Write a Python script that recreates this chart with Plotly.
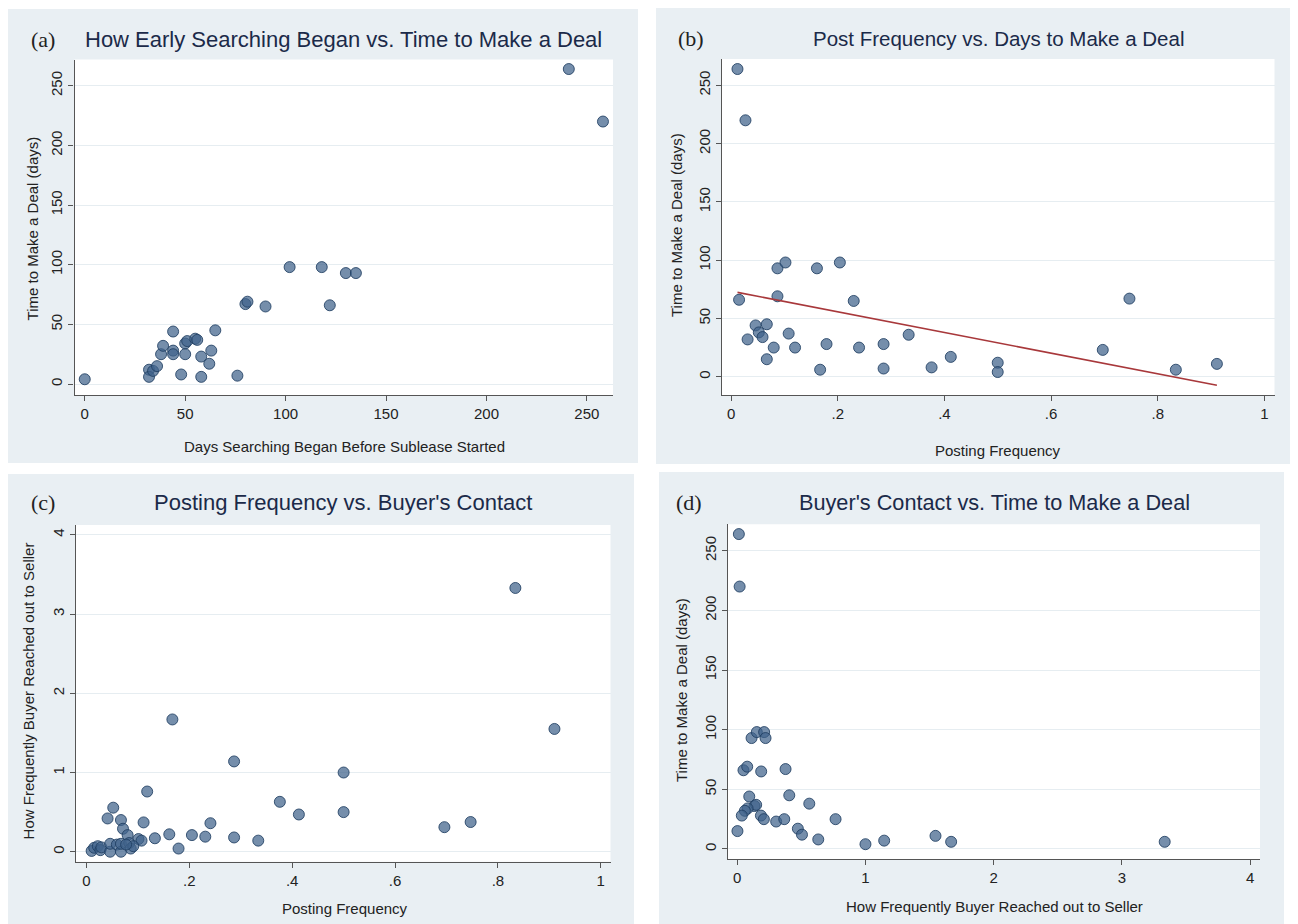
import numpy as np
import plotly.graph_objects as go

# ---------------- data ----------------
# (a) days searching began vs time to deal
a_days_began = [0, 32, 32, 34, 36, 38, 39, 44, 44, 44, 48, 50, 50, 51, 55, 56, 58, 58,
                62, 63, 65, 76, 80, 81, 90, 102, 118, 122, 130, 135, 241, 258]
a_time_deal = [4, 12, 6, 11, 15, 25, 32, 44, 28, 25, 8, 34, 25, 36, 38, 37, 23, 6,
               17, 28, 45, 7, 67, 69, 65, 98, 98, 66, 93, 93, 264, 220]

# (b) posting frequency vs time to deal
b_post_freq = [0.012, 0.027, 0.015, 0.031, 0.046, 0.052, 0.059, 0.067, 0.067, 0.080, 0.087,
               0.087, 0.102, 0.108, 0.120, 0.161, 0.167, 0.179, 0.204, 0.230, 0.240, 0.286,
               0.286, 0.333, 0.376, 0.412, 0.500, 0.500, 0.697, 0.747, 0.834, 0.911]
b_time_deal = [264, 220, 66, 32, 44, 38, 34, 45, 15, 25, 69,
               93, 98, 37, 25, 93, 6, 28, 98, 65, 25, 28,
               7, 36, 8, 17, 12, 4, 23, 67, 6, 11]

# (c) posting frequency vs buyer contact
c_post_freq = [0.834, 0.910, 0.167, 0.287, 0.500, 0.118, 0.052, 0.041, 0.067, 0.071, 0.080,
               0.111, 0.376, 0.413, 0.500, 0.241, 0.696, 0.747, 0.161, 0.205, 0.231, 0.287,
               0.334, 0.133, 0.179, 0.101, 0.107, 0.010, 0.015, 0.022, 0.027, 0.029, 0.046,
               0.046, 0.059, 0.067, 0.067, 0.083, 0.086, 0.091, 0.077]
c_contact = [3.33, 1.55, 1.67, 1.14, 1.00, 0.76, 0.556, 0.42, 0.40, 0.29, 0.21,
             0.37, 0.63, 0.47, 0.50, 0.36, 0.31, 0.375, 0.22, 0.21, 0.19, 0.18,
             0.14, 0.17, 0.04, 0.16, 0.14, 0.01, 0.05, 0.07, 0.02, 0.055, 0.0,
             0.10, 0.09, 0.0, 0.10, 0.11, 0.04, 0.07, 0.09]

# (d) buyer contact vs time to deal
d_contact = [0.013, 0.019, 0.112, 0.153, 0.210, 0.221, 0.049, 0.078, 0.187, 0.377, 0.094,
             0.406, 0.562, 0.135, 0.148, 0.081, 0.060, 0.036, 0.185, 0.208, 0.304, 0.367,
             0.767, 0.002, 0.473, 0.505, 0.632, 1.000, 1.146, 1.546, 1.668, 3.333]
d_time_deal = [264, 220, 93, 98, 98, 93, 66, 69, 65, 67, 44,
               45, 38, 36, 37, 34, 32, 28, 28, 25, 23, 25,
               25, 15, 17, 12, 8, 4, 7, 11, 6, 6]

freq_ticks = [0, 0.2, 0.4, 0.6, 0.8, 1]
freq_ticktext = ["0", ".2", ".4", ".6", ".8", "1"]
day_ticks = [0, 50, 100, 150, 200, 250]
contact_ticks = [0, 1, 2, 3, 4]

panel_letters = ["(a)", "(b)", "(c)", "(d)"]
panel_titles = ["How Early Searching Began vs. Time to Make a Deal",
                "Post Frequency vs. Days to Make a Deal",
                "Posting Frequency vs. Buyer's Contact",
                "Buyer's Contact vs. Time to Make a Deal"]
x_titles = ["Days Searching Began Before Sublease Started", "Posting Frequency",
            "Posting Frequency", "How Frequently Buyer Reached out to Seller"]
y_titles = ["Time to Make a Deal (days)", "Time to Make a Deal (days)",
            "How Frequently Buyer Reached out to Seller", "Time to Make a Deal (days)"]

# ---------------- layout helpers ----------------
OFF = 8  # page body margin
W, H = 1298 - OFF, 924 - OFF


def px_x(p):
    return max(0.0, min(1.0, (p - OFF) / W))


def px_y(p):
    return max(0.0, min(1.0, 1 - (p - OFF) / H))


TITLE_FONT = "Liberation Sans, Arial, sans-serif"
TEXT_FONT = "Liberation Sans, Arial, sans-serif"
NAVY = "#1b2a49"
AXIS_COL = "#555555"
GRID_COL = "#e6edf1"
PANEL_BG = "#e9eff3"

marker = dict(size=11, color="rgba(64,98,138,0.72)",
              line=dict(color="rgba(32,62,98,0.85)", width=1))

fig = go.Figure()

# panel geometry in reference pixels
plot_px = [(74.5, 613, 59.5, 395), (722, 1274.5, 59, 395), (75.7, 610.5, 525, 861.7),
           (727.7, 1260, 524.3, 859)]
bg_px = [(7, 638, 9, 463), (656, 1298, 7, 464), (7, 634, 474, 924), (659, 1284, 472, 924)]
letter_pos = [(43, 40), (691, 38), (43, 503), (689, 502)]
title_pos = [(343.5, 40), (998, 38), (343, 503), (994, 503)]
title_size = [22, 20.5, 22, 21.7]
xt_pos = [(344, 446), (998, 451), (345, 908), (994, 906)]
yt_pos = [(32.4, 228), (677, 225), (28.4, 691), (681, 690)]

ranges_x = [(-5.1, 263), (-0.017, 1.019), (-0.021, 1.019), (-0.074, 4.076)]
ranges_y = [(-9.2, 272), (-15.7, 272.6), (-0.126, 4.125), (-8.4, 272.2)]

xdata = [a_days_began, b_post_freq, c_post_freq, d_contact]
ydata = [a_time_deal, b_time_deal, c_contact, d_time_deal]

for i in range(4):
    n = "" if i == 0 else str(i + 1)
    fig.add_trace(go.Scatter(x=xdata[i], y=ydata[i], mode="markers", marker=marker,
                             xaxis="x" + n, yaxis="y" + n, showlegend=False,
                             hoverinfo="x+y"))

# linear fit in panel (b)
coef = np.polyfit(b_post_freq, b_time_deal, 1)
fx = np.array([min(b_post_freq), max(b_post_freq)])
fig.add_trace(go.Scatter(x=fx, y=np.polyval(coef, fx), mode="lines",
                         line=dict(color="#a8383b", width=1.6),
                         xaxis="x2", yaxis="y2", showlegend=False, hoverinfo="skip"))

layout = dict(width=W, height=H, margin=dict(l=0, r=0, t=0, b=0),
              paper_bgcolor="white", plot_bgcolor="white", showlegend=False)

shapes, annotations = [], []
for i in range(4):
    n = "" if i == 0 else str(i + 1)
    x0, x1, y0, y1 = plot_px[i]
    common = dict(showline=True, linecolor=AXIS_COL, linewidth=1.3, ticks="outside",
                  ticklen=5, tickcolor=AXIS_COL, tickwidth=1.3, zeroline=False,
                  tickfont=dict(family=TEXT_FONT, size=15, color="#222222"))
    xaxis = dict(domain=[px_x(x0), px_x(x1)], anchor="y" + n, range=list(ranges_x[i]),
                 showgrid=False, **common)
    yaxis = dict(domain=[px_y(y1), px_y(y0)], anchor="x" + n, range=list(ranges_y[i]),
                 showgrid=True, gridcolor=GRID_COL, gridwidth=1.2, tickangle=-90, **common)
    if i in (1, 2):
        xaxis.update(tickvals=freq_ticks, ticktext=freq_ticktext)
    elif i == 0:
        xaxis.update(tickvals=day_ticks)
    else:
        xaxis.update(tickvals=contact_ticks)
    if i == 2:
        yaxis.update(tickvals=contact_ticks)
    else:
        yaxis.update(tickvals=day_ticks)
    layout["xaxis" + n] = xaxis
    layout["yaxis" + n] = yaxis

    bx0, bx1, by0, by1 = bg_px[i]
    shapes.append(dict(type="rect", xref="paper", yref="paper", layer="below",
                       x0=px_x(bx0), x1=px_x(bx1), y0=px_y(by1), y1=px_y(by0),
                       fillcolor=PANEL_BG, line=dict(width=0)))
    shapes.append(dict(type="rect", xref="paper", yref="paper", layer="below",
                       x0=px_x(x0), x1=px_x(x1), y0=px_y(y1), y1=px_y(y0),
                       fillcolor="white", line=dict(width=0)))

    lx, ly = letter_pos[i]
    annotations.append(dict(text=panel_letters[i], x=px_x(lx), y=px_y(ly), xref="paper",
                            yref="paper", showarrow=False, xanchor="center", yanchor="middle",
                            font=dict(family="Liberation Serif, DejaVu Serif, serif", size=22,
                                      color="#222222")))
    tx, ty = title_pos[i]
    annotations.append(dict(text=panel_titles[i], x=px_x(tx), y=px_y(ty), xref="paper",
                            yref="paper", showarrow=False, xanchor="center", yanchor="middle",
                            font=dict(family=TITLE_FONT, size=title_size[i], color=NAVY)))
    xx, xy = xt_pos[i]
    annotations.append(dict(text=x_titles[i], x=px_x(xx), y=px_y(xy), xref="paper",
                            yref="paper", showarrow=False, xanchor="center", yanchor="middle",
                            font=dict(family=TEXT_FONT, size=15, color="#222222")))
    yx, yy = yt_pos[i]
    annotations.append(dict(text=y_titles[i], x=px_x(yx), y=px_y(yy), xref="paper",
                            yref="paper", showarrow=False, xanchor="center", yanchor="middle",
                            textangle=-90,
                            font=dict(family=TEXT_FONT, size=15, color="#222222")))

layout["shapes"] = shapes
layout["annotations"] = annotations
fig.update_layout(**layout)

fig.write_html("out.html")
